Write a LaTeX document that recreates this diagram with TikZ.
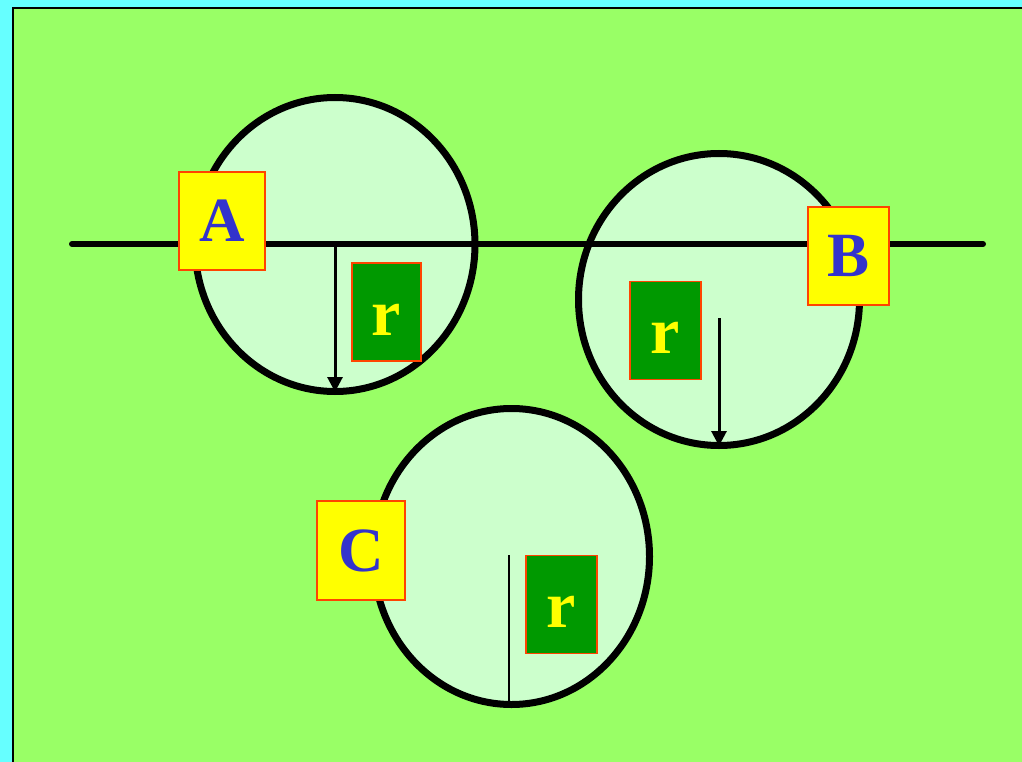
\documentclass[tikz,border=0pt]{standalone}
\usepackage{fontspec}
\setmainfont{Liberation Serif}
\usetikzlibrary{shapes.geometric,arrows.meta}
\definecolor{bgcyan}{HTML}{66FFFF}
\definecolor{bggreen}{HTML}{99FF66}
\definecolor{circfill}{HTML}{CCFFCC}
\definecolor{labyellow}{HTML}{FFFF00}
\definecolor{labblue}{HTML}{3333CC}
\definecolor{boxgreen}{HTML}{009900}
\definecolor{boxred}{HTML}{FF4400}
\tikzset{
  circ/.style={ellipse, draw=black, line width=7pt, fill=circfill, inner sep=0pt},
  lab/.style={rectangle, draw=boxred, line width=1.5pt, fill=labyellow, inner sep=0pt,
    text=labblue, font=\fontsize{63}{63}\selectfont\bfseries},
  rbox/.style={rectangle, draw=boxred, line width=1.5pt, fill=boxgreen, inner sep=0pt,
    minimum width=69pt, minimum height=98pt, text height=46pt, text depth=0pt,
    text=labyellow, font=\fontsize{66}{66}\selectfont\bfseries},
  radius/.style={line width=3pt, -{Triangle[length=15pt,width=15pt]}},
}
\begin{document}
\begin{tikzpicture}[x=1pt,y=-1pt]
\useasboundingbox (0,0) rectangle (1022,762);
\fill[bgcyan] (0,0) rectangle (1022,762);
\fill[bggreen] (13,8) rectangle (1022,762);
\draw[line width=2pt] (13,770) -- (13,8) -- (1030,8);
% circles
\node[circ, minimum width=280pt, minimum height=294pt] (cA) at (335,244.5) {};
\node[circ, minimum width=281pt, minimum height=292pt] (cB) at (719,299.5) {};
\node[circ, minimum width=276pt, minimum height=296pt] (cC) at (511.5,556.5) {};
% horizontal line
\coordinate (L1) at (72,244);
\coordinate (L2) at (983,244);
\draw[line width=6pt, line cap=round] (L1) -- (L2);
% radii
\coordinate (aTop) at (335,244);
\coordinate (aBot) at (335,392);
\draw[radius] (aTop) -- (aBot);
\coordinate (bTop) at (719,318);
\coordinate (bBot) at (719,446);
\draw[radius] (bTop) -- (bBot);
\coordinate (cTop) at (509,555);
\coordinate (cBot) at (509,704);
\draw[line width=2pt] (cTop) -- (cBot);
% labels
\node[lab, minimum width=86pt, minimum height=98pt] (A) at (222,221) {A};
\node[lab, minimum width=81pt, minimum height=98pt] (B) at (848.5,256) {B};
\node[lab, minimum width=88pt, minimum height=99pt] (C) at (361,550.5) {C};
\node[rbox] (rA) at (386.5,312) {r};
\node[rbox, minimum width=71pt] (rB) at (665.5,330.5) {r};
\node[rbox, minimum width=71pt] (rC) at (561.5,604.5) {r};
\end{tikzpicture}
\end{document}
